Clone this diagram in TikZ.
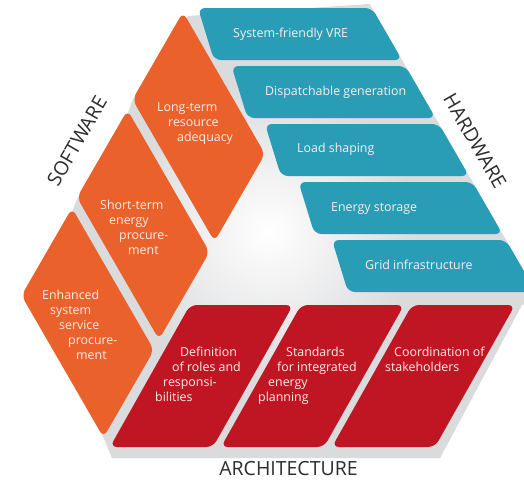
\documentclass[tikz,border=0pt]{standalone}
\usepackage{fontspec}
\setmainfont{Open Sans}
\begin{document}
\begin{tikzpicture}[x=1pt,y=-1pt,
  every node/.style={inner sep=0pt},
  swpiece/.style={fill=swOrange, rounded corners=7pt},
  hwpiece/.style={fill=hwBlue, rounded corners=7pt},
  arpiece/.style={fill=arRed, rounded corners=7pt},
  pietext/.style={text=txtWhite, font=\fontsize{12.4}{15}\selectfont, align=left, anchor=north west},
  bartext/.style={text=txtWhite, font=\fontsize{12.4}{15}\selectfont, anchor=base west},
  titletext/.style={text=titleGray, font=\fontsize{19.5}{20}\selectfont, anchor=center}]
\definecolor{swOrange}{RGB}{234,97,44}
\definecolor{hwBlue}{RGB}{42,157,182}
\definecolor{arRed}{RGB}{192,22,36}
\definecolor{txtWhite}{RGB}{250,238,232}
\definecolor{gapGray}{RGB}{218,219,221}
\definecolor{titleGray}{RGB}{45,45,45}
\useasboundingbox (0,0) rectangle (524,480);
\fill[white] (0,0) rectangle (524,480);
% background grey body of the triangle
\def\bodypath{(188,16) -- (369.7,4) -- (539.6,298) -- (522,305) -- (440,458) -- (112,458) -- (103.5,437.5) -- (24,296) -- (72,212) -- (77,199) -- (127.5,114) -- (132.5,100) -- cycle}
\fill[gapGray] \bodypath;
\begin{scope}
  \clip \bodypath;
  \shade[inner color=white, outer color=gapGray] (268,232) circle (150);
\end{scope}
% hardware bars
\foreach \i in {0,...,4}{
  \fill[hwpiece] ({198+33.5*\i},{8+58*\i}) -- ({372+33.5*\i},{8+58*\i}) -- ({402+33.5*\i},{60+58*\i}) -- ({214+33.5*\i},{60+58*\i}) -- cycle;
}
% software pieces
\foreach \i in {0,1,2}{
  \fill[swpiece] ({183-55.5*\i},{12+98*\i}) -- ++(82,142) -- ++(-50.5,87.5) -- ++(-82,-142) -- cycle;
}
% architecture pieces
\foreach \j in {0,1,2}{
  \fill[arpiece] ({190+111*\j},305) -- ({293+111*\j},305) -- ({213+111*\j},447) -- ({110+111*\j},447) -- cycle;
}
% texts
\node[bartext] (h1) at (233,37) {System-friendly VRE};
\node[bartext] (h2) at (265,95) {Dispatchable generation};
\node[bartext] (h3) at (297,152) {Load shaping};
\node[bartext] (h4) at (331,211) {Energy storage};
\node[bartext] (h5) at (365,269) {Grid infrastructure};
\node[pietext] (s1) at (157,102) {Long-term\\\hspace*{11pt}resource\\\hspace*{20pt}adequacy};
\node[pietext] (s2) at (100,200) {Short-term\\\hspace*{9pt}energy\\\hspace*{19pt}procure-\\\hspace*{28pt}ment};
\node[pietext] (s3) at (42,290) {Enhanced\\\hspace*{8pt}system\\\hspace*{17pt}service\\\hspace*{26pt}procure-\\\hspace*{34pt}ment};
\node[pietext] (a1) at (155,347) {\hspace*{25pt}Definition\\\hspace*{17pt}of roles and\\\hspace*{8pt}responsi-\\bilities};
\node[pietext] (a2) at (258,347) {\hspace*{28pt}Standards\\\hspace*{19pt}for integrated\\\hspace*{10pt}energy\\planning};
\node[pietext] (a3) at (385,347) {\hspace*{9pt}Coordination of\\stakeholders};
\node[titletext, rotate=60] (tsw) at (77,141) {SOFTWARE};
\node[titletext, rotate=-60] (thw) at (475,141) {HARDWARE};
\node[titletext] (tar) at (288.5,469) {ARCHITECTURE};
\end{tikzpicture}
\end{document}
